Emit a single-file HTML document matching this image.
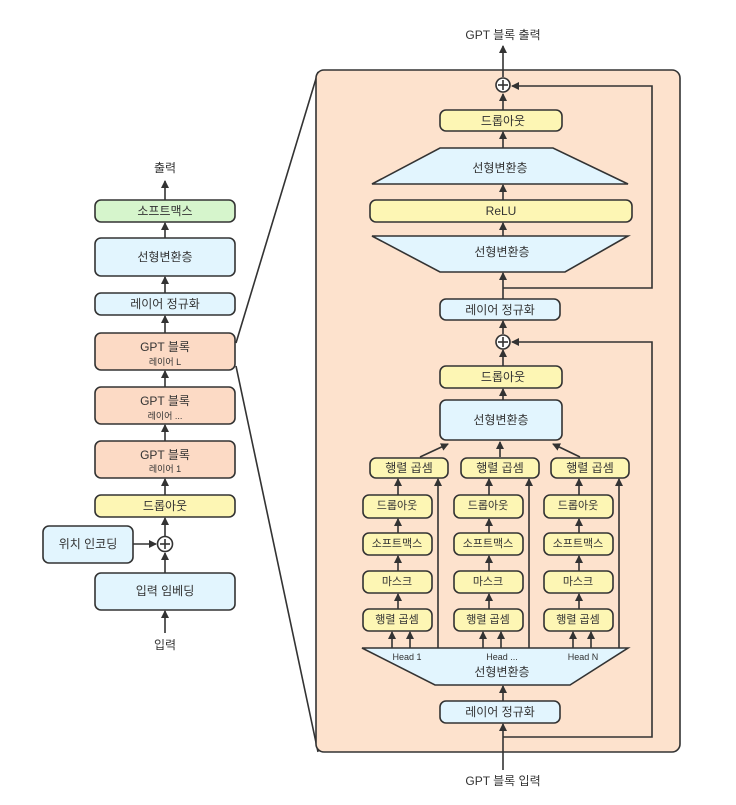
<!DOCTYPE html>
<html><head><meta charset="utf-8"><style>
body{margin:0;background:#fff}
svg text{font-family:"Liberation Sans","Noto Sans CJK KR",sans-serif;fill:#333;text-anchor:middle;dominant-baseline:central}
</style></head><body>
<svg width="736" height="800" viewBox="0 0 736 800" xmlns="http://www.w3.org/2000/svg">
<defs><marker id="a" markerWidth="8" markerHeight="8" refX="7" refY="4" orient="auto" markerUnits="userSpaceOnUse"><path d="M0,0 L8,4 L0,8 z" fill="#333"/></marker></defs>
<g stroke="#333" stroke-width="1.6" fill="none">
<!-- left column -->
<line x1="165" y1="200" x2="165" y2="181" marker-end="url(#a)"/>
<line x1="165" y1="238" x2="165" y2="223" marker-end="url(#a)"/>
<line x1="165" y1="293" x2="165" y2="277" marker-end="url(#a)"/>
<line x1="165" y1="333" x2="165" y2="316" marker-end="url(#a)"/>
<line x1="165" y1="387" x2="165" y2="371" marker-end="url(#a)"/>
<line x1="165" y1="441" x2="165" y2="425" marker-end="url(#a)"/>
<line x1="165" y1="495" x2="165" y2="479" marker-end="url(#a)"/>
<line x1="165" y1="536" x2="165" y2="518" marker-end="url(#a)"/>
<line x1="165" y1="573" x2="165" y2="553" marker-end="url(#a)"/>
<line x1="165" y1="633" x2="165" y2="611" marker-end="url(#a)"/>
<line x1="133" y1="544" x2="156" y2="544" marker-end="url(#a)"/>
<line x1="236" y1="343" x2="318" y2="72"/>
<line x1="236" y1="366" x2="318" y2="752"/>
</g>
<g stroke="#333" stroke-width="1.6">
<rect x="95" y="200" width="140" height="22" rx="6" fill="#d6f5cc"/>
<rect x="95" y="238" width="140" height="38" rx="6" fill="#e2f5fe"/>
<rect x="95" y="293" width="140" height="22" rx="6" fill="#e2f5fe"/>
<rect x="95" y="333" width="140" height="37" rx="6" fill="#fcdac5"/>
<rect x="95" y="387" width="140" height="37" rx="6" fill="#fcdac5"/>
<rect x="95" y="441" width="140" height="37" rx="6" fill="#fcdac5"/>
<rect x="95" y="495" width="140" height="22" rx="6" fill="#fdf6b4"/>
<rect x="43" y="526" width="90" height="37" rx="6" fill="#e2f5fe"/>
<rect x="95" y="573" width="140" height="37" rx="6" fill="#e2f5fe"/>
<circle cx="165" cy="544" r="7.5" fill="#fff"/>
<line x1="160" y1="544" x2="170" y2="544"/><line x1="165" y1="539" x2="165" y2="549"/>
</g>
<text x="165" y="168" font-size="12">출력</text>
<text x="165" y="211" font-size="12">소프트맥스</text>
<text x="165" y="257" font-size="12">선형변환층</text>
<text x="165" y="304" font-size="12">레이어 정규화</text>
<text x="165" y="347" font-size="12">GPT 블록</text><text x="165" y="362" font-size="9">레이어 L</text>
<text x="165" y="401" font-size="12">GPT 블록</text><text x="165" y="416" font-size="9">레이어 ...</text>
<text x="165" y="455" font-size="12">GPT 블록</text><text x="165" y="469" font-size="9">레이어 1</text>
<text x="165" y="506" font-size="12">드롭아웃</text>
<text x="88" y="544" font-size="12">위치 인코딩</text>
<text x="165" y="591" font-size="12">입력 임베딩</text>
<text x="165" y="645" font-size="12">입력</text>

<!-- panel -->
<rect x="316" y="70" width="364" height="682" rx="8" fill="#fde2cd" stroke="#333" stroke-width="1.6"/>
<text x="503" y="35" font-size="12">GPT 블록 출력</text>
<text x="503" y="781" font-size="12">GPT 블록 입력</text>
<g stroke="#333" stroke-width="1.6" fill="none">
<line x1="503" y1="77" x2="503" y2="46" marker-end="url(#a)"/>
<polyline points="503,288 652,288 652,86 512,86" marker-end="url(#a)"/>
<line x1="503" y1="110" x2="503" y2="94" marker-end="url(#a)"/>
<line x1="503" y1="148" x2="503" y2="132" marker-end="url(#a)"/>
<line x1="503" y1="200" x2="503" y2="185" marker-end="url(#a)"/>
<line x1="503" y1="236" x2="503" y2="223" marker-end="url(#a)"/>
<line x1="503" y1="299" x2="503" y2="273" marker-end="url(#a)"/>
<line x1="503" y1="334" x2="503" y2="321" marker-end="url(#a)"/>
<polyline points="503,737 652,737 652,342 512,342" marker-end="url(#a)"/>
<line x1="503" y1="366" x2="503" y2="350" marker-end="url(#a)"/>
<line x1="503" y1="400" x2="503" y2="389" marker-end="url(#a)"/>
<line x1="420" y1="457" x2="448" y2="444" marker-end="url(#a)"/>
<line x1="500" y1="457" x2="500" y2="442" marker-end="url(#a)"/>
<line x1="580" y1="457" x2="553" y2="444" marker-end="url(#a)"/>
<line x1="503" y1="701" x2="503" y2="686" marker-end="url(#a)"/>
<line x1="503" y1="770" x2="503" y2="724" marker-end="url(#a)"/>
</g>
<g stroke="#333" stroke-width="1.6">
<circle cx="503" cy="85" r="7" fill="#fff"/><line x1="498" y1="85" x2="508" y2="85"/><line x1="503" y1="80" x2="503" y2="90"/>
<circle cx="503" cy="342" r="7" fill="#fff"/><line x1="498" y1="342" x2="508" y2="342"/><line x1="503" y1="337" x2="503" y2="347"/>
<rect x="440" y="110" width="122" height="21" rx="6" fill="#fdf6b4"/>
<polygon points="440,148 553,148 628,184 372,184" fill="#e2f5fe"/>
<rect x="370" y="200" width="262" height="22" rx="6" fill="#fdf6b4"/>
<polygon points="372,236 628,236 565,272 440,272" fill="#e2f5fe"/>
<rect x="440" y="299" width="120" height="21" rx="6" fill="#e2f5fe"/>
<rect x="440" y="366" width="122" height="22" rx="6" fill="#fdf6b4"/>
<rect x="440" y="400" width="122" height="40" rx="6" fill="#e2f5fe"/>
<polygon points="362,648 628,648 570,685 435,685" fill="#e2f5fe"/>
<rect x="440" y="701" width="120" height="22" rx="6" fill="#e2f5fe"/>
</g>
<text x="503" y="121" font-size="12">드롭아웃</text>
<text x="500" y="168" font-size="12">선형변환층</text>
<text x="501" y="211" font-size="12">ReLU</text>
<text x="502" y="252" font-size="12">선형변환층</text>
<text x="500" y="310" font-size="12">레이어 정규화</text>
<text x="503" y="377" font-size="12">드롭아웃</text>
<text x="501" y="420" font-size="12">선형변환층</text>
<text x="407" y="657" font-size="9">Head 1</text>
<text x="502" y="657" font-size="9">Head ...</text>
<text x="583" y="657" font-size="9">Head N</text>
<text x="502" y="672" font-size="12">선형변환층</text>
<text x="500" y="712" font-size="12">레이어 정규화</text>

<g id="col">
<g stroke="#333" stroke-width="1.6" fill="none">
<line x1="438" y1="648" x2="438" y2="479" marker-end="url(#a)"/>
<line x1="398" y1="495" x2="398" y2="479" marker-end="url(#a)"/>
<line x1="398" y1="533" x2="398" y2="519" marker-end="url(#a)"/>
<line x1="398" y1="571" x2="398" y2="556" marker-end="url(#a)"/>
<line x1="398" y1="609" x2="398" y2="594" marker-end="url(#a)"/>
<line x1="392" y1="648" x2="392" y2="632" marker-end="url(#a)"/>
<line x1="410" y1="648" x2="410" y2="632" marker-end="url(#a)"/>
</g>
<g stroke="#333" stroke-width="1.6" fill="#fdf6b4">
<rect x="370" y="458" width="78" height="20" rx="6"/>
<rect x="363" y="495" width="69" height="23" rx="6"/>
<rect x="363" y="533" width="69" height="22" rx="6"/>
<rect x="363" y="571" width="69" height="22" rx="6"/>
<rect x="363" y="609" width="69" height="22" rx="6"/>
</g>
<text x="409" y="468" font-size="12">행렬 곱셈</text>
<text x="397" y="506" font-size="11">드롭아웃</text>
<text x="397" y="544" font-size="11">소프트맥스</text>
<text x="397" y="582" font-size="11">마스크</text>
<text x="397" y="620" font-size="11">행렬 곱셈</text>
</g>
<use href="#col" transform="translate(91,0)"/>
<use href="#col" transform="translate(181,0)"/>
</svg>
</body></html>
